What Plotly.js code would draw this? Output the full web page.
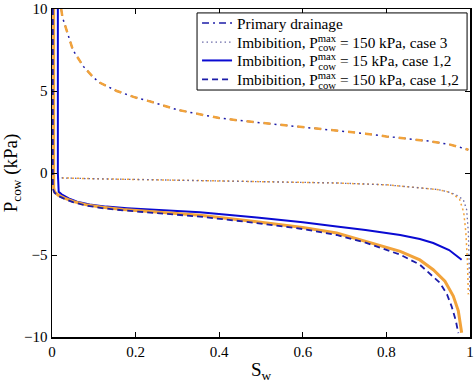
<!DOCTYPE html>
<html>
<head>
<meta charset="utf-8">
<script src="https://cdn.plot.ly/plotly-3.0.1.min.js"></script>
<style>html,body{margin:0;padding:0;background:#fff;}#chart{width:474px;height:383px;}</style>
</head>
<body>
<div id="chart"></div>
<script>
// Primary drainage
const drainSw = [0.022, 0.025, 0.035, 0.05, 0.075, 0.1, 0.115, 0.155, 0.2, 0.234, 0.3, 0.4, 0.466, 0.55, 0.657, 0.75, 0.8, 0.9, 0.95, 0.98, 0.996];
const drainP  = [10, 9.5, 8.7, 7.5, 6.5, 5.8, 5.5, 5.0, 4.6, 4.37, 3.85, 3.35, 3.15, 2.94, 2.64, 2.4, 2.23, 1.95, 1.75, 1.55, 1.42];

// Imbibition, Pmax = 150 kPa, case 3
const case3Sw = [0.012, 0.023, 0.1, 0.2, 0.354, 0.5, 0.681, 0.8, 0.88, 0.92, 0.944, 0.965, 0.984, 0.992, 0.996, 0.998, 1.0];
const case3P  = [-0.3, -0.3, -0.35, -0.4, -0.47, -0.53, -0.61, -0.72, -0.91, -1.0, -1.12, -1.3, -1.63, -2.24, -3.6, -5.5, -7.4];
const case3OrSw = [0.012, 0.023, 0.1, 0.2, 0.354, 0.5, 0.681, 0.8, 0.88, 0.92, 0.944, 0.96, 0.975, 0.985, 0.99, 0.994, 0.996];
const case3OrP  = [-0.3, -0.3, -0.35, -0.4, -0.47, -0.53, -0.61, -0.72, -0.91, -1.0, -1.12, -1.3, -1.6, -2.4, -3.6, -5.5, -7.4];

// Imbibition, Pmax = 15 kPa, case 1,2
const p15Sw = [0.014, 0.014, 0.016, 0.023, 0.04, 0.06, 0.09, 0.13, 0.18, 0.25, 0.354, 0.49, 0.6, 0.681, 0.75, 0.833, 0.88, 0.912, 0.95, 0.98];
const p15P  = [10, 0, -1.15, -1.3, -1.55, -1.75, -1.92, -2.05, -2.15, -2.26, -2.4, -2.72, -3.0, -3.26, -3.47, -3.78, -4.02, -4.27, -4.7, -5.29];

// Imbibition, Pmax = 150 kPa, case 1,2
const p150Sw = [0.002, 0.002, 0.006, 0.015, 0.03, 0.05, 0.08, 0.12, 0.17, 0.25, 0.354, 0.49, 0.6, 0.681, 0.75, 0.833, 0.88, 0.928, 0.945, 0.956, 0.966, 0.972];
const p150P  = [10, -0.95, -1.2, -1.4, -1.58, -1.78, -1.98, -2.14, -2.28, -2.45, -2.66, -3.05, -3.42, -3.78, -4.25, -4.98, -5.59, -6.7, -7.4, -8.13, -9.0, -9.76];
const p150OrSw = [0.004, 0.004, 0.006, 0.015, 0.03, 0.05, 0.08, 0.12, 0.17, 0.25, 0.354, 0.49, 0.6, 0.681, 0.75, 0.833, 0.88, 0.912, 0.94, 0.96, 0.972, 0.98];
const p150OrP  = [10, -0.9, -1.15, -1.35, -1.53, -1.73, -1.93, -2.09, -2.23, -2.4, -2.58, -2.97, -3.32, -3.66, -4.15, -4.78, -5.3, -5.9, -6.6, -7.5, -8.4, -9.74];

// "max" over "cow": the last letter of "max" carries a negative letter-spacing so "cow" starts under it
const PMAX = 'P<sup>ma<span style="letter-spacing:-18px">x</span></sup><sub>cow</sub>';
const legendNames = [
  'Primary drainage',
  'Imbibition, ' + PMAX + ' = 150 kPa, case 3',
  'Imbibition, ' + PMAX + ' = 15 kPa, case 1,2',
  'Imbibition, ' + PMAX + ' = 150 kPa, case 1,2'
];
const xTicks = [0, 0.2, 0.4, 0.6, 0.8, 1];
const xTickText = ['0', '0.2', '0.4', '0.6', '0.8', '1'];
const yTicks = [-10, -5, 0, 5, 10];
const yTickText = ['\u221210', '\u22125', '0', '5', '10'];

const ORANGE = '#F2A33A';
const NAVY = '#1c1ca8';
const BLUE = '#0a0ad2';
const DOTC = '#6a6aa8';
const SERIF = '"Liberation Serif", "Times New Roman", Times, serif';

const traces = [
  {x: drainSw, y: drainP, mode: 'lines', name: legendNames[0], showlegend: true, legend: 'legend',
   line: {color: NAVY, width: 1.5, dash: '7px,4px,2px,4px'}},
  {x: drainSw, y: drainP, mode: 'lines', showlegend: false, hoverinfo: 'skip',
   line: {color: ORANGE, width: 2.5, dash: '7px,10px'}},
  {x: case3OrSw, y: case3OrP, mode: 'lines', showlegend: false, hoverinfo: 'skip',
   line: {color: ORANGE, width: 1.5, dash: '2px,3px'}},
  {x: case3Sw, y: case3P, mode: 'lines', name: legendNames[1], showlegend: true, legend: 'legend2',
   line: {color: DOTC, width: 1.3, dash: '1.5px,3px'}},
  {x: p15Sw, y: p15P, mode: 'lines', name: legendNames[2], showlegend: true, legend: 'legend3',
   line: {color: BLUE, width: 2}},
  {x: p150OrSw, y: p150OrP, mode: 'lines', showlegend: false, hoverinfo: 'skip',
   line: {color: ORANGE, width: 3}},
  {x: p150Sw, y: p150P, mode: 'lines', name: legendNames[3], showlegend: true, legend: 'legend4',
   line: {color: NAVY, width: 1.8, dash: '6px,4px'}}
];

const axisCommon = {
  showline: true, linecolor: '#000', linewidth: 1.5, mirror: 'allticks',
  ticks: 'inside', ticklen: 5, tickwidth: 1, tickcolor: '#000',
  showgrid: false, zeroline: false,
  tickfont: {family: SERIF, size: 15, color: '#000'}
};

function legendAt(yPaper) {
  return {
    x: 0.347, xanchor: 'left', y: yPaper, yanchor: 'middle',
    bgcolor: 'rgba(0,0,0,0)', borderwidth: 0,
    font: {family: SERIF, size: 15.3, color: '#000'},
    itemwidth: 30
  };
}

const layout = {
  width: 474, height: 383,
  margin: {l: 52, r: 4, t: 9, b: 46},
  paper_bgcolor: '#fff', plot_bgcolor: '#fff',
  font: {family: SERIF, color: '#000'},
  xaxis: Object.assign({}, axisCommon, {
    range: [0, 1], tickvals: xTicks, ticktext: xTickText,
    title: {text: 'S<sub>w</sub>', font: {family: SERIF, size: 19, color: '#000'}, standoff: 4}
  }),
  yaxis: Object.assign({}, axisCommon, {
    range: [-10, 10], tickvals: yTicks, ticktext: yTickText,
    title: {text: 'P<sub>cow</sub> (kPa)', font: {family: SERIF, size: 19, color: '#000'}, standoff: 4}
  }),
  legend: legendAt(0.957),
  legend2: legendAt(0.899),
  legend3: legendAt(0.843),
  legend4: legendAt(0.785),
  shapes: [{
    type: 'rect', xref: 'paper', yref: 'paper', layer: 'above',
    x0: 0.347, x1: 0.993, y0: 0.753, y1: 0.988,
    fillcolor: '#fff', line: {color: '#000', width: 1}
  }],
  showlegend: true
};

Plotly.newPlot('chart', traces, layout, {displayModeBar: false, staticPlot: true});
</script>
</body>
</html>
